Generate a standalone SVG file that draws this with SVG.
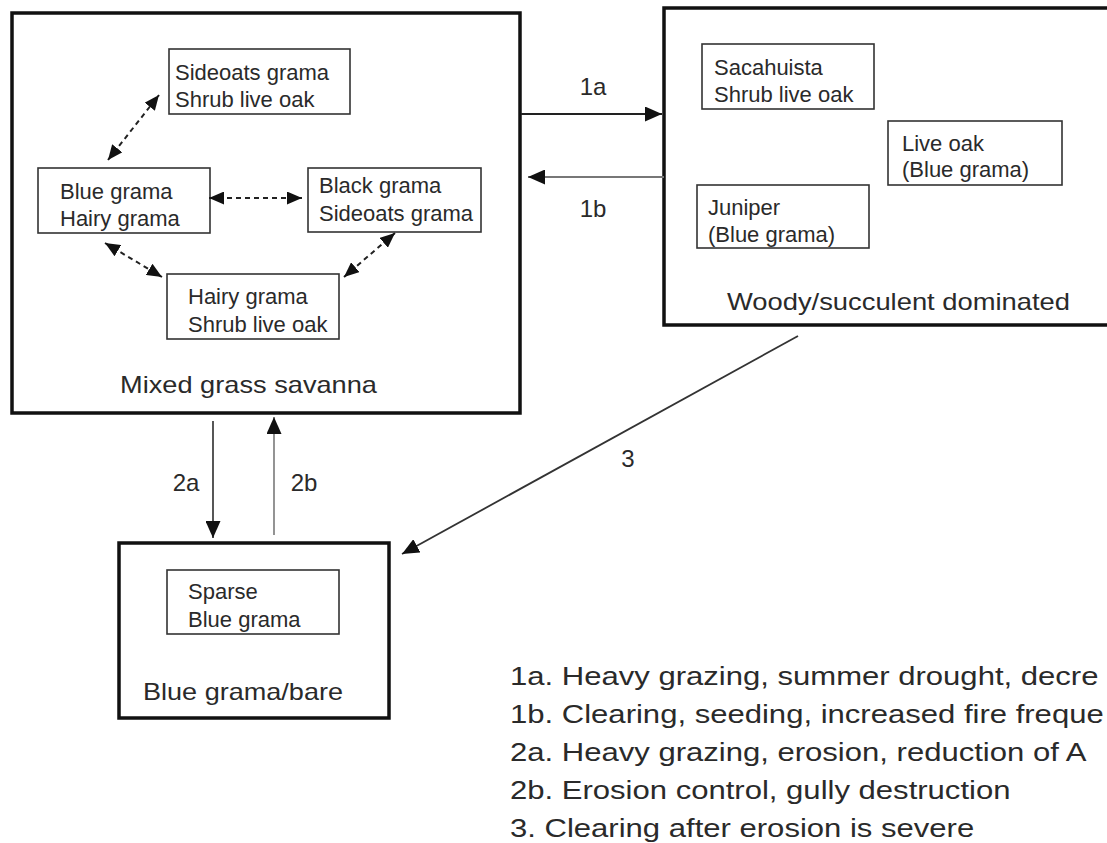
<svg xmlns="http://www.w3.org/2000/svg" width="1107" height="843" viewBox="0 0 1107 843">
<style>
text{font-family:"Liberation Sans",Arial,sans-serif;fill:#2a2a2a}
.state{fill:#fff;stroke:#111;stroke-width:3.5}
.sub{fill:#fff;stroke:#333;stroke-width:1.6}
.in{font-size:22px}
.big{font-size:24px}
.lbl{font-size:24px}
.leg{font-size:26px}
.con{fill:none;stroke-width:1.8}
.dash{fill:none;stroke:#222;stroke-width:2;stroke-dasharray:5,4}
</style>
<defs>
<marker id="ah" viewBox="0 0 17 15" refX="17" refY="7.5" markerWidth="17" markerHeight="15" orient="auto-start-reverse" markerUnits="userSpaceOnUse"><path d="M0,0 L17,7.5 L0,15 z" fill="#111"/></marker>
<marker id="dh" viewBox="0 0 15 13" refX="15" refY="6.5" markerWidth="15" markerHeight="13" orient="auto-start-reverse" markerUnits="userSpaceOnUse"><path d="M0,0 L15,6.5 L0,13 z" fill="#111"/></marker>
</defs>
<rect width="1107" height="843" fill="#fff"/>

<g id="mixed-grass-savanna">
<rect class="state" x="12" y="13" width="508" height="400"/>
<text class="big" x="120" y="393" textLength="257" lengthAdjust="spacingAndGlyphs">Mixed grass savanna</text>
</g>
<g id="sideoats-shrub">
<rect class="sub" x="169" y="49" width="181" height="65"/>
<text class="in" x="175" y="80">Sideoats grama</text>
<text class="in" x="175" y="107">Shrub live oak</text>
</g>
<g id="blue-hairy">
<rect class="sub" x="38" y="168" width="172" height="65"/>
<text class="in" x="60" y="199">Blue grama</text>
<text class="in" x="60" y="226">Hairy grama</text>
</g>
<g id="black-sideoats">
<rect class="sub" x="308" y="168" width="173" height="64"/>
<text class="in" x="319" y="193">Black grama</text>
<text class="in" x="319" y="221">Sideoats grama</text>
</g>
<g id="hairy-shrub">
<rect class="sub" x="167" y="274" width="172" height="65"/>
<text class="in" x="188" y="304">Hairy grama</text>
<text class="in" x="188" y="332">Shrub live oak</text>
</g>

<g id="woody-succulent">
<rect class="state" x="664" y="8" width="460" height="317"/>
<text class="big" x="727" y="310" textLength="343" lengthAdjust="spacingAndGlyphs">Woody/succulent dominated</text>
</g>
<g id="sacahuista">
<rect class="sub" x="702" y="44" width="172" height="65"/>
<text class="in" x="714" y="75">Sacahuista</text>
<text class="in" x="714" y="102">Shrub live oak</text>
</g>
<g id="live-oak">
<rect class="sub" x="888" y="121" width="174" height="64"/>
<text class="in" x="902" y="151">Live oak</text>
<text class="in" x="902" y="177">(Blue grama)</text>
</g>
<g id="juniper">
<rect class="sub" x="697" y="185" width="172" height="63"/>
<text class="in" x="708" y="215">Juniper</text>
<text class="in" x="708" y="242">(Blue grama)</text>
</g>

<g id="blue-grama-bare">
<rect class="state" x="119" y="543" width="270" height="175"/>
<text class="big" x="143" y="700" textLength="200" lengthAdjust="spacingAndGlyphs">Blue grama/bare</text>
</g>
<g id="sparse">
<rect class="sub" x="167" y="570" width="172" height="64"/>
<text class="in" x="188" y="599">Sparse</text>
<text class="in" x="188" y="627">Blue grama</text>
</g>

<g id="connectors">
<line class="dash" x1="108" y1="160" x2="159" y2="95" marker-start="url(#dh)" marker-end="url(#dh)"/>
<line class="dash" x1="209" y1="198" x2="302" y2="198" marker-start="url(#dh)" marker-end="url(#dh)"/>
<line class="dash" x1="105" y1="243" x2="162" y2="277" marker-start="url(#dh)" marker-end="url(#dh)"/>
<line class="dash" x1="395" y1="233" x2="344" y2="277" marker-start="url(#dh)" marker-end="url(#dh)"/>

<line class="con" stroke="#222" x1="521" y1="114" x2="662" y2="114" marker-end="url(#ah)"/>
<line class="con" stroke="#777" x1="664" y1="177" x2="528" y2="177" marker-end="url(#ah)"/>
<line class="con" stroke="#444" x1="213" y1="421" x2="213" y2="538" marker-end="url(#ah)"/>
<line class="con" stroke="#888" x1="274" y1="535" x2="274" y2="417" marker-end="url(#ah)"/>
<line class="con" stroke="#333" x1="798" y1="336" x2="402" y2="554" marker-end="url(#ah)"/>

<text class="lbl" x="593" y="95" text-anchor="middle">1a</text>
<text class="lbl" x="593" y="217" text-anchor="middle">1b</text>
<text class="lbl" x="186" y="491" text-anchor="middle">2a</text>
<text class="lbl" x="304" y="491" text-anchor="middle">2b</text>
<text class="lbl" x="628" y="467" text-anchor="middle">3</text>
</g>

<g id="legend" transform="translate(510,0) scale(1.195,1)">
<text class="leg" x="0" y="685">1a. Heavy grazing, summer drought, decre</text>
<text class="leg" x="0" y="723">1b. Clearing, seeding, increased fire freque</text>
<text class="leg" x="0" y="761">2a. Heavy grazing, erosion, reduction of A</text>
<text class="leg" x="0" y="799">2b. Erosion control, gully destruction</text>
<text class="leg" x="0" y="837">3. Clearing after erosion is severe</text>
</g>
</svg>
